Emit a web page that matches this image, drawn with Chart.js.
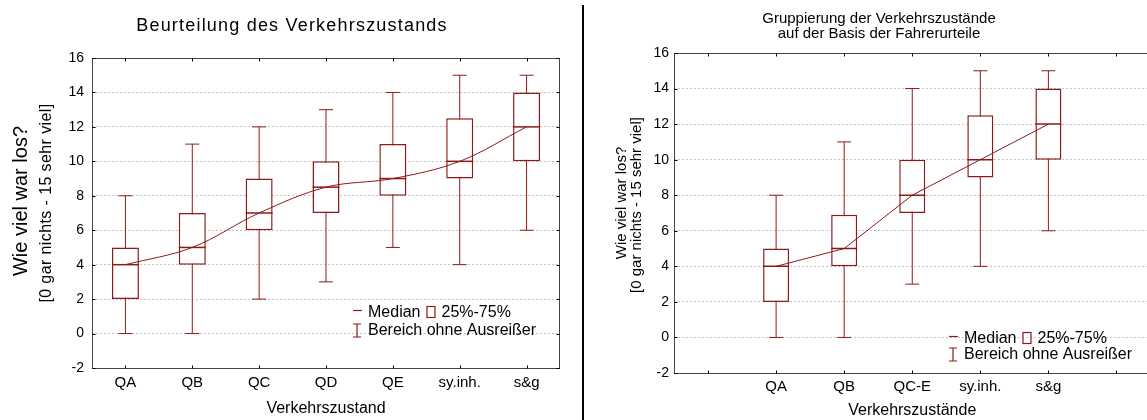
<!DOCTYPE html>
<html>
<head>
<meta charset="utf-8">
<script src="https://cdn.jsdelivr.net/npm/chart.js@4.4.1/dist/chart.umd.min.js"></script>
<style>
  html, body { margin: 0; padding: 0; background: #fff; overflow: hidden; width: 1147px; height: 420px; }
  canvas { position: absolute; top: 0; }
  #left { left: 0; }
  #right { left: 585px; }
  #divider { position: absolute; left: 582px; top: 5px; width: 2px; height: 415px; background: #000; }
</style>
</head>
<body>
<canvas id="left" width="575" height="420"></canvas>
<div id="divider"></div>
<canvas id="right" width="580" height="420"></canvas>
<script>
// ── DATA ──
const leftCategories = ['QA', 'QB', 'QC', 'QD', 'QE', 'sy.inh.', 's&g'];
const leftMin    = [0, 0, 2, 3, 5, 4, 6];
const leftQ1     = [2, 4, 6, 7, 8, 9, 10];
const leftMedian = [4, 5, 7, 8.5, 9, 10, 12];
const leftQ3     = [5, 7, 9, 10, 11, 12.5, 14];
const leftMax    = [8, 11, 12, 13, 14, 15, 15];

const rightCategories = ['QA', 'QB', 'QC-E', 'sy.inh.', 's&g'];
const rightMin    = [0, 0, 3, 4, 6];
const rightQ1     = [2, 4, 7, 9, 10];
const rightMedian = [4, 5, 8, 10, 12];
const rightQ3     = [5, 6.9, 10, 12.5, 14];
const rightMax    = [8, 11, 14, 15, 15];

const yTicks = [-2, 0, 2, 4, 6, 8, 10, 12, 14, 16];

// ── STYLE ──
const RED = '#8c1a1a';
const FONT = 'Liberation Sans, Arial, sans-serif';

// right chart has an empty slot before and after the groups
const pad = arr => [null, ...arr, null];

function boxDatasets(min, q1, med, q3, max, boxW, tension) {
  const range = min.map((v, i) => v == null ? null : [v, max[i]]);
  const box = q1.map((v, i) => v == null ? null : [v, q3[i]]);
  const marks = (data, r, w, order) => ({
    type: 'line', data, showLine: false, pointStyle: 'line',
    pointRadius: r, pointBorderColor: RED, pointBorderWidth: w, order
  });
  return [
    { type: 'line', data: med, borderColor: RED, borderWidth: 1, pointRadius: 0, tension, order: 0 },
    marks(med, boxW / 2, 1.5, 1),
    marks(min, 7, 1, 2),
    marks(max, 7, 1, 2),
    { type: 'bar', data: box, backgroundColor: '#fff', borderColor: RED, borderWidth: 1.5,
      borderSkipped: false, barThickness: boxW, grouped: false, inflateAmount: 0, order: 3 },
    { type: 'bar', data: range, backgroundColor: RED, barThickness: 1, grouped: false, inflateAmount: 0, order: 4 },
  ];
}

// frame, inward ticks, titles and legend
const deco = {
  id: 'deco',
  afterDraw(chart, args, o) {
    const { ctx, chartArea: a, scales: { x, y } } = chart;
    ctx.save();
    ctx.strokeStyle = '#444';
    ctx.lineWidth = 1;
    const L = Math.round(a.left) + 0.5, R = Math.round(a.right) - 0.5;
    const T = Math.round(a.top) + 0.5, B = Math.round(a.bottom) + 0.5;
    ctx.strokeRect(L, T, R - L, B - T);
    ctx.strokeStyle = '#000';
    ctx.beginPath();
    x.ticks.forEach((t, i) => {
      const px = Math.round(x.getPixelForTick(i)) + 0.5;
      ctx.moveTo(px, T); ctx.lineTo(px, T + 3);
      ctx.moveTo(px, B); ctx.lineTo(px, B - 3);
    });
    y.ticks.forEach((t, i) => {
      const py = Math.round(y.getPixelForTick(i)) + 0.5;
      ctx.moveTo(L, py); ctx.lineTo(L + 3, py);
      ctx.moveTo(R, py); ctx.lineTo(R - 3, py);
    });
    ctx.stroke();

    ctx.fillStyle = '#000';
    ctx.textAlign = 'center';
    ctx.textBaseline = 'middle';
    o.title.forEach(t => {
      ctx.font = t.size + 'px ' + FONT;
      ctx.letterSpacing = t.spacing || '0px';
      ctx.fillText(t.text, t.x, t.y);
    });
    o.yTitle.forEach(t => {
      ctx.save();
      ctx.translate(t.x, t.y);
      ctx.rotate(-Math.PI / 2);
      ctx.font = t.size + 'px ' + FONT;
      ctx.letterSpacing = t.spacing || '0px';
      ctx.fillText(t.text, 0, 0);
      ctx.restore();
    });
    ctx.letterSpacing = '0px';

    // legend
    const g = o.legend;
    ctx.font = g.size + 'px ' + FONT;
    ctx.textAlign = 'left';
    ctx.strokeStyle = RED;
    ctx.lineWidth = 1.2;
    ctx.beginPath();
    ctx.moveTo(g.x - 4, g.y1 - 2.5); ctx.lineTo(g.x + 5, g.y1 - 2.5);
    ctx.stroke();
    ctx.fillText('Median', g.x + 11, g.y1);
    const mw = ctx.measureText('Median').width;
    const bx = g.x + 11 + mw + 6;
    ctx.strokeRect(bx + 0.5, g.y1 - 6.5, 8, 11);
    ctx.fillText('25%-75%', bx + 15, g.y1);
    ctx.beginPath();
    ctx.moveTo(g.x, g.y2 - 7); ctx.lineTo(g.x, g.y2 + 6);
    ctx.moveTo(g.x - 4, g.y2 - 7); ctx.lineTo(g.x + 4, g.y2 - 7);
    ctx.moveTo(g.x - 4, g.y2 + 6); ctx.lineTo(g.x + 4, g.y2 + 6);
    ctx.stroke();
    ctx.fillText('Bereich ohne Ausreißer', g.x + 11, g.y2);
    ctx.restore();
  }
};

function makeChart(id, labels, datasets, lay, decoOpts) {
  return new Chart(document.getElementById(id), {
    type: 'bar',
    data: { labels, datasets },
    options: {
      responsive: false,
      animation: false,
      layout: { padding: { top: lay.top, right: lay.right, left: 0, bottom: 0 } },
      plugins: { legend: { display: false }, tooltip: { enabled: false }, deco: decoOpts },
      scales: {
        x: {
          offset: true,
          grid: { display: false, drawTicks: false },
          border: { display: false },
          ticks: { color: '#000', font: { family: FONT, size: lay.xTickSize }, padding: lay.xPad, autoSkip: false, maxRotation: 0 },
          title: { display: true, text: lay.xTitle, color: '#000', font: { family: FONT, size: lay.xTitleSize }, padding: { top: 0, bottom: lay.xTitlePad } },
          afterFit: s => { s.height = lay.xHeight; }
        },
        y: {
          min: yTicks[0], max: yTicks[yTicks.length - 1],
          afterBuildTicks: s => { s.ticks = yTicks.map(v => ({ value: v })); },
          grid: { color: '#c4c4c4', drawTicks: false },
          border: { display: false, dash: [2, 2] },
          ticks: { color: '#000', font: { family: FONT, size: lay.yTickSize }, padding: lay.yPad },
          afterFit: s => { s.width = lay.yWidth; }
        }
      }
    },
    plugins: [deco]
  });
}

// ── LEFT CHART ──
makeChart('left', leftCategories,
  boxDatasets(leftMin, leftQ1, leftMedian, leftQ3, leftMax, 27, 0.35),
  { top: 58, right: 14, yWidth: 92, xHeight: 52, xTickSize: 15, yTickSize: 14, xPad: 6, yPad: 8,
    xTitle: 'Verkehrszustand', xTitleSize: 16, xTitlePad: 2 },
  {
    title: [{ text: 'Beurteilung des Verkehrszustands', x: 292, y: 26, size: 18, spacing: '1.2px' }],
    yTitle: [
      { text: 'Wie viel war los?', x: 21, y: 201, size: 20 },
      { text: '[0 gar nichts - 15 sehr viel]', x: 47, y: 203, size: 16, spacing: '0.4px' }
    ],
    legend: { x: 357, y1: 313, y2: 331, size: 16 }
  });

// ── RIGHT CHART ──  (text positions are in canvas coords, canvas starts at x=585)
makeChart('right', pad(rightCategories).map(v => v || ''),
  boxDatasets(pad(rightMin), pad(rightQ1), pad(rightMedian), pad(rightQ3), pad(rightMax), 26, 0),
  { top: 53, right: 8, yWidth: 89, xHeight: 47, xTickSize: 15, yTickSize: 14, xPad: 5, yPad: 5,
    xTitle: 'Verkehrszustände', xTitleSize: 16, xTitlePad: 0 },
  {
    title: [
      { text: 'Gruppierung der Verkehrszustände', x: 294, y: 19, size: 15 },
      { text: 'auf der Basis der Fahrerurteile', x: 294, y: 34, size: 15 }
    ],
    yTitle: [
      { text: 'Wie viel war los?', x: 37, y: 203, size: 15 },
      { text: '[0 gar nichts - 15 sehr viel]', x: 52, y: 205, size: 15 }
    ],
    legend: { x: 368, y1: 339, y2: 355, size: 16 }
  });
</script>
</body>
</html>
